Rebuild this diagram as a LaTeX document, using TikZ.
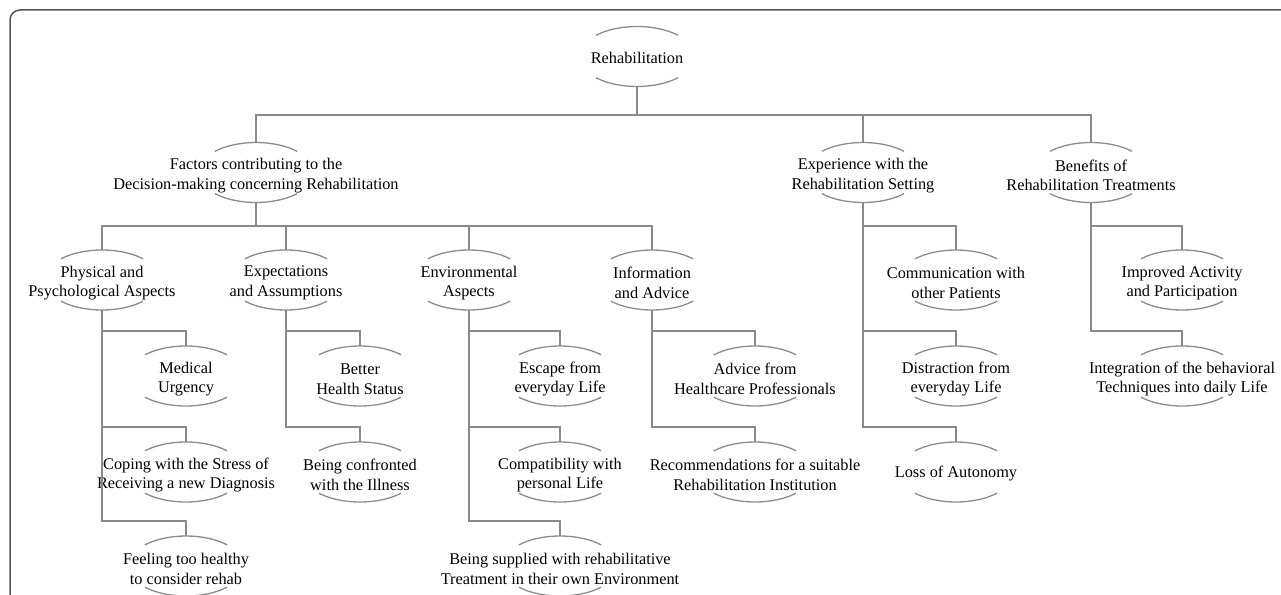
\documentclass[tikz,border=0pt]{standalone}
\usepackage{fontspec}
\setmainfont{Liberation Serif}
\definecolor{linegray}{HTML}{8A8A8A}
\definecolor{arcgray}{HTML}{8C8C8C}
\definecolor{framegray}{HTML}{555555}
\tikzset{
  bub/.style={rectangle, minimum width=116pt, minimum height=60pt, inner sep=0pt},
  txt/.style={inner sep=0pt, align=center, yshift=-3pt,
    font=\fontsize{16.3}{19.5}\selectfont},
  conn/.style={draw=linegray, line width=1.6pt},
  bubarc/.style={draw=arcgray, line width=1.3pt},
  framest/.style={draw=framegray, line width=1.5pt, rounded corners=10pt}
}
\newcommand\bubarcs[1]{%
  \draw[bubarc] ([shift={(45:58pt and 30pt)}]#1.center) arc[start angle=45,end angle=135,x radius=58pt,y radius=30pt];
  \draw[bubarc] ([shift={(225:58pt and 30pt)}]#1.center) arc[start angle=225,end angle=315,x radius=58pt,y radius=30pt];}
\begin{document}
\begin{tikzpicture}[x=1pt,y=-1pt]
\useasboundingbox (0,0) rectangle (1281,594);
\draw[framest] (10,620) -- (10,10) -- (1300,10);

% nodes
\node[bub, label={[txt, yshift=2pt]center:Rehabilitation}] (root) at (637,56.5) {};
\node[bub, label={[txt]center:{Factors contributing to the\\Decision-making concerning Rehabilitation}}] (fac) at (256,172.5) {};
\node[bub, label={[txt]center:{Experience with the\\Rehabilitation Setting}}] (exp) at (863,172.5) {};
\node[bub, label={[txt]center:{Benefits of\\Rehabilitation Treatments}}] (ben) at (1091,172.5) {};

\node[bub, label={[txt]center:{Physical and\\Psychological Aspects}}] (phy) at (102,280) {};
\node[bub, label={[txt]center:{Expectations\\and Assumptions}}] (expc) at (286,280) {};
\node[bub, label={[txt]center:{Environmental\\Aspects}}] (env) at (469,280) {};
\node[bub, label={[txt]center:{Information\\and Advice}}] (inf) at (652,280) {};

\node[bub, label={[txt]center:{Medical\\Urgency}}] (med) at (186,376) {};
\node[bub, label={[txt]center:{Coping with the Stress of\\Receiving a new Diagnosis}}] (cop) at (186,472) {};
\node[bub, label={[txt]center:{Feeling too healthy\\to consider rehab}}] (feel) at (186,566) {};

\node[bub, label={[txt]center:{Better\\Health Status}}] (bet) at (360,376) {};
\node[bub, label={[txt]center:{Being confronted\\with the Illness}}] (conf) at (360,472) {};

\node[bub, label={[txt]center:{Escape from\\everyday Life}}] (esc) at (560,376) {};
\node[bub, label={[txt]center:{Compatibility with\\personal Life}}] (comp) at (560,472) {};
\node[bub, label={[txt]center:{Being supplied with rehabilitative\\Treatment in their own Environment}}] (sup) at (560,566) {};

\node[bub, label={[txt]center:{Advice from\\Healthcare Professionals}}] (adv) at (755,376) {};
\node[bub, label={[txt]center:{Recommendations for a suitable\\Rehabilitation Institution}}] (rec) at (755,472) {};

\node[bub, label={[txt]center:{Communication with\\other Patients}}] (com) at (956,280) {};
\node[bub, label={[txt]center:{Distraction from\\everyday Life}}] (dis) at (956,376) {};
\node[bub, label={[txt, yshift=1pt]center:{Loss of Autonomy}}] (loss) at (956,472) {};

\node[bub, label={[txt]center:{Improved Activity\\and Participation}}] (imp) at (1182,280) {};
\node[bub, label={[txt]center:{Integration of the behavioral\\Techniques into daily Life}}] (int) at (1182,376) {};

% arcs
\foreach \n in {root,fac,exp,ben,phy,expc,env,inf,med,cop,feel,bet,conf,esc,comp,sup,adv,rec,com,dis,loss,imp,int}{\bubarcs{\n}}

% connectors
\draw[conn] (root.south) -- ++(0,28) -| (fac.north);
\draw[conn] (root.south) -- ++(0,28) -| (exp.north);
\draw[conn] (root.south) -- ++(0,28) -| (ben.north);

\draw[conn] (fac.south) -- ++(0,23.5) -| (phy.north);
\draw[conn] (fac.south) -- ++(0,23.5) -| (expc.north);
\draw[conn] (fac.south) -- ++(0,23.5) -| (env.north);
\draw[conn] (fac.south) -- ++(0,23.5) -| (inf.north);

\foreach \p/\c in {phy/med,phy/cop,phy/feel,expc/bet,expc/conf,env/esc,env/comp,env/sup,inf/adv,inf/rec,exp/dis,exp/loss,ben/int}{
  \draw[conn] (\p.south) |- ([yshift=15pt]\c.north) -- (\c.north);
}
\draw[conn] (exp.south) |- ([yshift=24pt]com.north) -- (com.north);
\draw[conn] (ben.south) |- ([yshift=24pt]imp.north) -- (imp.north);
\end{tikzpicture}
\end{document}
